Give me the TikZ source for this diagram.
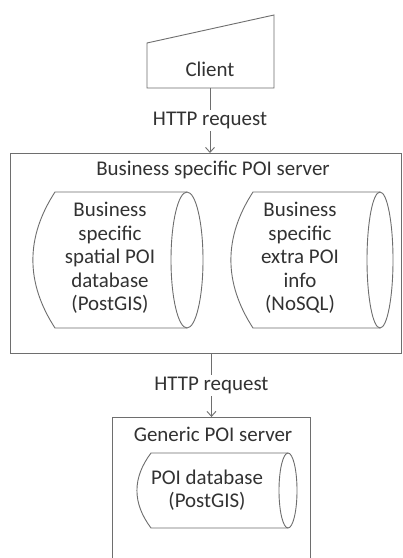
\documentclass[tikz,border=0pt]{standalone}
\usepackage{fontspec}
\setmainfont{Carlito}
\usetikzlibrary{arrows.meta}
\definecolor{linegray}{RGB}{110,110,110}
\definecolor{textgray}{RGB}{50,50,50}
% horizontal database drum: #1 left corner x, #2 bulge x, #3 right ellipse centre x,
% #4 right ellipse half width, #5 top y, #6 bottom y
\newcommand{\drumoutline}[6]{%
  \draw[outline] (#3,#5) -- (#1,#5)
    .. controls ({#2-0.34*(#1-#2)},{#5+(#6-#5)/3}) and ({#2-0.34*(#1-#2)},{#6-(#6-#5)/3}) .. (#1,#6)
    -- (#3,#6);
  \draw[outline] ({#3},{(#5+#6)/2}) ellipse [x radius=#4, y radius={(#6-#5)/2}];
}
\begin{document}
\begin{tikzpicture}[x=1bp,y=-1bp,
  every node/.style={text=textgray,font=\fontsize{21}{23.5}\selectfont},
  outline/.style={draw=linegray,line width=0.9bp},
  box/.style={outline,rectangle,inner sep=0pt},
  dbtext/.style={align=center,inner sep=0pt},
  flow/.style={draw=linegray,line width=0.9bp,-{Straight Barb[length=5bp,width=9bp]}},
  lbl/.style={fill=white,inner sep=2bp}]
\useasboundingbox (0,0) rectangle (402,558);
\clip (0,0) rectangle (402,558);
\fill[white] (0,0) rectangle (402,558);

% client (manual input shape)
\draw[outline] (147,43) -- (274,15) -- (274,88) -- (147,88) -- cycle;
\node (client) at (210,69) {Client};
\coordinate (clientbot) at (210,88);

% business specific server
\node[box,minimum width=391bp,minimum height=200bp,anchor=north west] (biz) at (10,153) {};
\node (biztitle) at (213,170) {Business specific POI server};
\drumoutline{55}{33}{187}{16}{192}{328}
\node[dbtext] (spatial) at (110,258)
  {Business\\specific\\spatial POI\\database\\(PostGIS)};
\drumoutline{253}{231}{380}{13}{192}{328}
\node[dbtext] (extra) at (300,258)
  {Business\\specific\\extra POI\\info\\(NoSQL)};

% generic server
\node[box,minimum width=198bp,minimum height=180bp,anchor=north west] (gen) at (112,417) {};
\node (gentitle) at (213,434) {Generic POI server};
\drumoutline{151}{137}{288}{9}{453}{528}
\node[dbtext] (poidb) at (207,490) {POI database\\(PostGIS)};

% requests
\draw[flow] (clientbot) -- node[lbl,pos=0.5] {HTTP request} (client |- biz.north);
\draw[flow] (biz.south -| gen.north) -- node[lbl,pos=0.5] {HTTP request} (gen.north);
\end{tikzpicture}
\end{document}
